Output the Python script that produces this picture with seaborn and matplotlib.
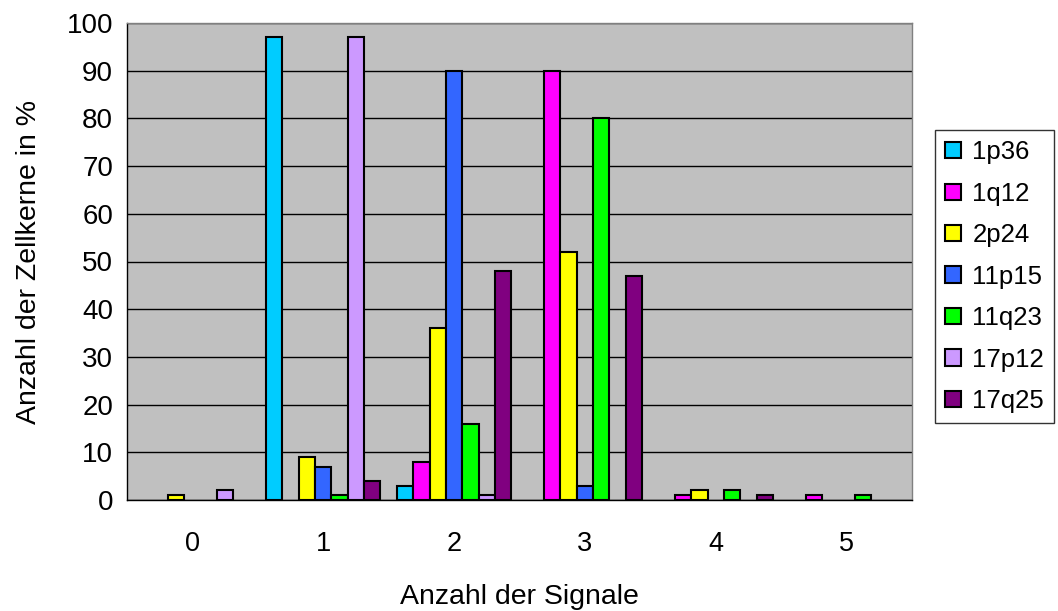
import matplotlib
matplotlib.use("Agg")
import matplotlib.pyplot as plt
from matplotlib.patches import Patch
import seaborn as sns
import pandas as pd
import numpy as np

signals = ["0", "1", "2", "3", "4", "5"]
probes = ["1p36", "1q12", "2p24", "11p15", "11q23", "17p12", "17q25"]
colors = ["#00CCFF", "#FF00FF", "#FFFF00", "#3366FF", "#00FF00", "#CC99FF", "#800080"]

p1p36 = [0, 97, 3, 0, 0, 0]
p1q12 = [0, 0, 8, 90, 1, 1]
p2p24 = [1, 9, 36, 52, 2, 0]
p11p15 = [0, 7, 90, 3, 0, 0]
p11q23 = [0, 1, 16, 80, 2, 1]
p17p12 = [2, 97, 1, 0, 0, 0]
p17q25 = [0, 4, 48, 47, 1, 0]

series = [p1p36, p1q12, p2p24, p11p15, p11q23, p17p12, p17q25]
rows = []
for name, vals in zip(probes, series):
    for s, v in zip(signals, vals):
        rows.append({"Signale": s, "Sonde": name, "Prozent": v})
df = pd.DataFrame(rows)

sns.set_style("white")
plt.rcParams["font.family"] = ["Liberation Sans", "DejaVu Sans"]
plt.rcParams["text.color"] = "black"
plt.rcParams["axes.labelcolor"] = "black"
plt.rcParams["xtick.color"] = "black"
plt.rcParams["ytick.color"] = "black"

fig = plt.figure(figsize=(10.58, 6.11), dpi=100)
ax = fig.add_axes([127 / 1058, 1 - 500 / 611, (912 - 127) / 1058, (500 - 23) / 611])
ax.set_facecolor("#C0C0C0")

sns.barplot(data=df, x="Signale", y="Prozent", hue="Sonde", order=signals,
            hue_order=probes, palette=colors, width=7 / 8, edgecolor="black",
            linewidth=1.5, saturation=1, ax=ax, legend=False)

# empty categories get no visible outline
for bar in ax.patches:
    if bar.get_height() == 0:
        bar.set_visible(False)

ax.set_ylim(0, 100)
ax.set_xlim(-0.5, 5.5)
ax.set_yticks(np.arange(0, 101, 10))
ax.yaxis.grid(True, color="black", linewidth=1)
ax.set_axisbelow(True)

ax.set_xticks(np.arange(-0.5, 6, 1), minor=True)
ax.tick_params(axis="x", which="minor", length=8, width=1, color="black", direction="out")
ax.tick_params(axis="x", which="major", length=0, pad=22, labelsize=19.5)
ax.tick_params(axis="y", length=7, width=1, color="black", direction="out", labelsize=20, pad=3)

for side in ["left", "bottom"]:
    ax.spines[side].set_color("black")
    ax.spines[side].set_linewidth(1)
for side in ["top", "right"]:
    ax.spines[side].set_color("#808080")
    ax.spines[side].set_linewidth(1)
    ax.spines[side].set_visible(True)

ax.set_xlabel("Anzahl der Signale", fontsize=20.5, labelpad=20)
ax.set_ylabel("Anzahl der Zellkerne in %", fontsize=20.5, labelpad=18)

handles = [Patch(facecolor=c, edgecolor="black", linewidth=1.5) for c in colors]
leg = fig.legend(handles, probes, loc="upper left", bbox_to_anchor=(935 / 1058, 1 - 130 / 611),
                 frameon=True, fancybox=False, edgecolor="black", fontsize=18.5,
                 handlelength=0.6, handleheight=0.6, handletextpad=0.45,
                 labelspacing=0.68, borderpad=0.4, borderaxespad=0)
leg.get_frame().set_linewidth(1)

fig.savefig("out.png", dpi=100, facecolor="white")
